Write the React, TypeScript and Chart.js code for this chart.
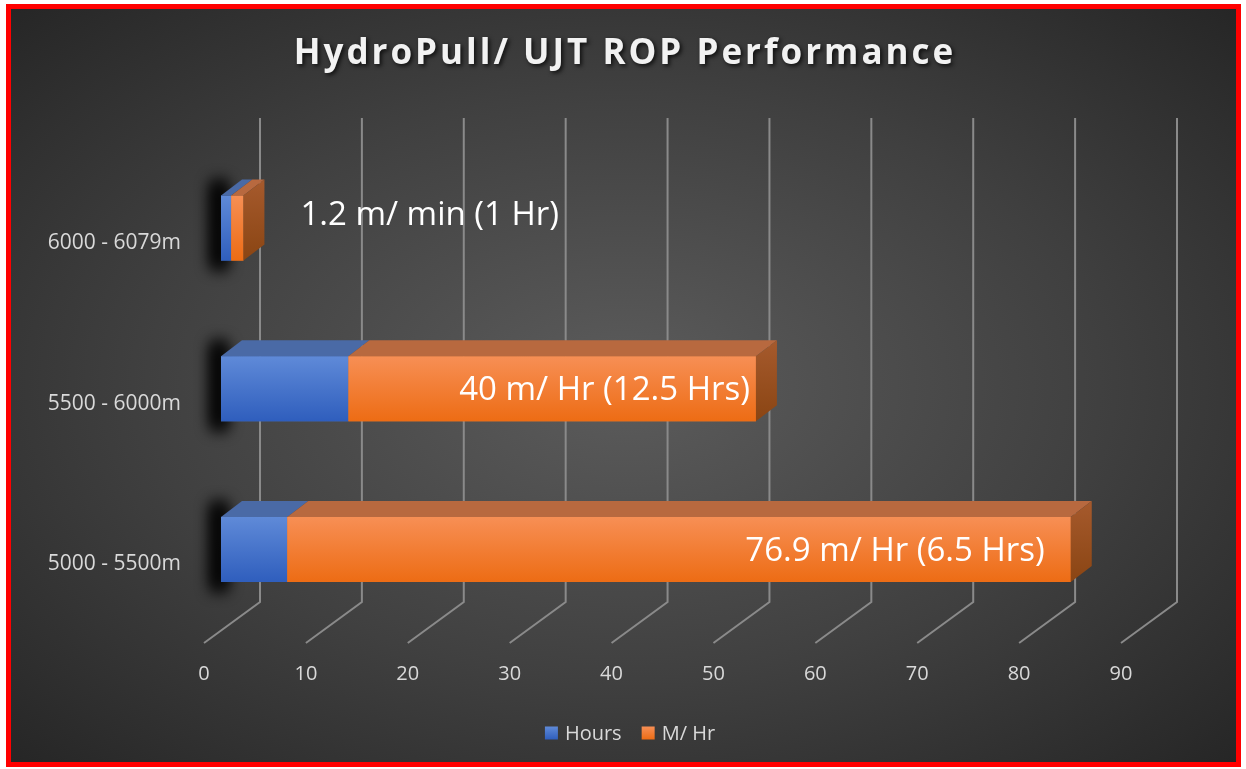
import React, { useEffect, useRef } from "react";
import { Chart, registerables } from "chart.js";

Chart.register(...registerables);

const chartTitle = "HydroPull/ UJT ROP Performance";
const categories = ["6000 - 6079m", "5500 - 6000m", "5000 - 5500m"];
const seriesNames = ["Hours", "M/ Hr"];
const hoursValues = [1, 12.5, 6.5];
const metresPerHourValues = [1.2, 40, 76.9];
const barLabels = ["1.2 m/ min (1 Hr)", "40 m/ Hr (12.5 Hrs)", "76.9 m/ Hr (6.5 Hrs)"];
const xTickValues = [0, 10, 20, 30, 40, 50, 60, 70, 80, 90];

const FONT = '"Open Sans", "Noto Sans", sans-serif';

const blueFront = ["#5f8ad8", "#2f5ebd"];
const orangeFront = ["#f78f55", "#ed6c14"];
const faceTop = ["#4a6aa6", "#b8693f"];
const faceSide = ["#a65a2d", "#8a4513"];

const DX = 21;
const DY = -16;
const WALL_DX = 39;
const FLOOR_DX = -56;

const threeD = {
  id: "threeD",
  beforeDatasetsDraw(chart: any) {
    const ctx = chart.ctx as CanvasRenderingContext2D;
    const xs = chart.scales.x;
    const ys = chart.scales.y;
    const area = chart.chartArea;
    ctx.save();
    ctx.strokeStyle = "#8a8a8a";
    ctx.lineWidth = 2;
    const wallTop = 118;
    const wallBottom = 602;
    const floorFront = 643;
    xTickValues.forEach((v) => {
      const bx = xs.getPixelForValue(v) + WALL_DX;
      ctx.beginPath();
      ctx.moveTo(bx, wallTop);
      ctx.lineTo(bx, wallBottom);
      ctx.lineTo(bx + FLOOR_DX, floorFront);
      ctx.stroke();
    });
    ctx.fillStyle = "#d9d9d9";
    ctx.font = `20px ${FONT}`;
    ctx.textAlign = "center";
    ctx.textBaseline = "middle";
    xTickValues.forEach((v) => {
      const bx = xs.getPixelForValue(v) + WALL_DX + FLOOR_DX;
      ctx.fillText(String(v), bx, 674);
    });
    ctx.textAlign = "right";
    ctx.font = `21px ${FONT}`;
    categories.forEach((c, i) => {
      ctx.fillText(c, area.left - 40, ys.getPixelForValue(i) + 15);
    });
    // soft shadows to the left of each bar
    const meta0 = chart.getDatasetMeta(0);
    meta0.data.forEach((el: any) => {
      const top = el.y - el.height / 2;
      const bottom = el.y + el.height / 2;
      ctx.save();
      const off = 5000;
      ctx.shadowColor = "rgba(0,0,0,1)";
      ctx.shadowBlur = 16;
      ctx.shadowOffsetX = off;
      ctx.fillStyle = "#000";
      for (let k = 0; k < 2; k++) {
        ctx.fillRect(el.base - 9 - off, top - 14, 14, bottom - top + 22);
      }
      ctx.restore();
    });
    ctx.restore();
  },
  afterDatasetsDraw(chart: any) {
    const ctx = chart.ctx as CanvasRenderingContext2D;
    ctx.save();
    const nSets = chart.data.datasets.length;
    for (let d = 0; d < nSets; d++) {
      const meta = chart.getDatasetMeta(d);
      const fronts = d === 0 ? blueFront : orangeFront;
      meta.data.forEach((el: any) => {
        const x0 = Math.min(el.base, el.x);
        const x1 = Math.max(el.base, el.x);
        const top = el.y - el.height / 2;
        const bottom = el.y + el.height / 2;
        const g = ctx.createLinearGradient(0, top, 0, bottom);
        g.addColorStop(0, fronts[0]);
        g.addColorStop(1, fronts[1]);
        ctx.fillStyle = g;
        ctx.fillRect(x0, top, x1 - x0, bottom - top);
        ctx.fillStyle = faceTop[d];
        ctx.beginPath();
        ctx.moveTo(x0, top);
        ctx.lineTo(x1, top);
        ctx.lineTo(x1 + DX, top + DY);
        ctx.lineTo(x0 + DX, top + DY);
        ctx.closePath();
        ctx.fill();
        if (d === nSets - 1) {
          const gs = ctx.createLinearGradient(0, top + DY, 0, bottom);
          gs.addColorStop(0, faceSide[0]);
          gs.addColorStop(1, faceSide[1]);
          ctx.fillStyle = gs;
          ctx.beginPath();
          ctx.moveTo(x1, top);
          ctx.lineTo(x1 + DX, top + DY);
          ctx.lineTo(x1 + DX, bottom + DY);
          ctx.lineTo(x1, bottom);
          ctx.closePath();
          ctx.fill();
        }
      });
    }
    const meta = chart.getDatasetMeta(nSets - 1);
    ctx.fillStyle = "#ffffff";
    ctx.font = `33px ${FONT}`;
    ctx.textBaseline = "middle";
    meta.data.forEach((el: any, i: number) => {
      const len = Math.abs(el.x - el.base);
      if (len < 60) {
        ctx.textAlign = "left";
        ctx.fillText(barLabels[i], el.x + 57, el.y - 12);
      } else {
        ctx.textAlign = "right";
        const inset = i === 1 ? 6 : 26;
        ctx.fillText(barLabels[i], el.x - inset, el.y + 2);
      }
    });
    ctx.restore();
  },
  afterDraw(chart: any) {
    const ctx = chart.ctx as CanvasRenderingContext2D;
    ctx.save();
    ctx.font = `bold 35px ${FONT}`;
    (ctx as any).letterSpacing = "3px";
    ctx.textAlign = "center";
    ctx.textBaseline = "middle";
    ctx.shadowColor = "rgba(0,0,0,0.75)";
    ctx.shadowBlur = 4;
    ctx.shadowOffsetX = 2;
    ctx.shadowOffsetY = 2;
    ctx.fillStyle = "#f2f2f2";
    ctx.fillText(chartTitle, 625, 54);
    ctx.restore();

    ctx.save();
    ctx.font = `20px ${FONT}`;
    ctx.textBaseline = "middle";
    ctx.textAlign = "left";
    const box = 13;
    const gapBoxText = 7;
    const gapItems = 20;
    const widths = seriesNames.map((s) => ctx.measureText(s).width);
    const total = widths.reduce((a, w) => a + box + gapBoxText + w, 0) + gapItems * (seriesNames.length - 1);
    let lx = 630 - total / 2;
    const ly = 733;
    seriesNames.forEach((s, i) => {
      const fronts = i === 0 ? blueFront : orangeFront;
      const g = ctx.createLinearGradient(0, ly - box / 2, 0, ly + box / 2);
      g.addColorStop(0, fronts[0]);
      g.addColorStop(1, fronts[1]);
      ctx.fillStyle = g;
      ctx.fillRect(lx, ly - box / 2, box, box);
      lx += box + gapBoxText;
      ctx.fillStyle = "#d9d9d9";
      ctx.fillText(s, lx, ly + 1);
      lx += widths[i] + gapItems;
    });
    ctx.restore();
  },
};

export default function App() {
  const ref = useRef<HTMLCanvasElement | null>(null);
  useEffect(() => {
    if (!ref.current) return;
    const chart = new Chart(ref.current, {
      type: "bar",
      data: {
        labels: categories,
        datasets: [
          {
            label: seriesNames[0],
            data: hoursValues,
            backgroundColor: "#4472c4",
            borderWidth: 0,
            barPercentage: 0.405,
            categoryPercentage: 1,
          },
          {
            label: seriesNames[1],
            data: metresPerHourValues,
            backgroundColor: "#ed7d31",
            borderWidth: 0,
            barPercentage: 0.405,
            categoryPercentage: 1,
          },
        ],
      },
      options: {
        indexAxis: "y",
        responsive: false,
        maintainAspectRatio: false,
        animation: false,
        layout: { padding: { left: 221, right: 108, top: 147.75, bottom: 139.25 } },
        scales: {
          x: { stacked: true, min: 0, max: 90, display: false },
          y: { stacked: true, display: false },
        },
        plugins: {
          legend: { display: false },
          title: { display: false },
          tooltip: { enabled: false },
        },
      },
      plugins: [threeD],
    } as any);
    return () => chart.destroy();
  }, []);

  return (
    <div style={{ position: "absolute", left: 0, top: 0, width: 1246, height: 769, background: "#ffffff" }}>
      <div
        style={{
          position: "absolute",
          left: 6,
          top: 4,
          width: 1235,
          height: 763,
          boxSizing: "border-box",
          border: "5px solid #ff0000",
          background: "radial-gradient(ellipse at 50% 50%, #5c5c5c 0%, #404040 55%, #262626 100%)",
        }}
      />
      <canvas ref={ref} width={1246} height={769} style={{ position: "absolute", left: 0, top: 0, width: 1246, height: 769 }} />
    </div>
  );
}
